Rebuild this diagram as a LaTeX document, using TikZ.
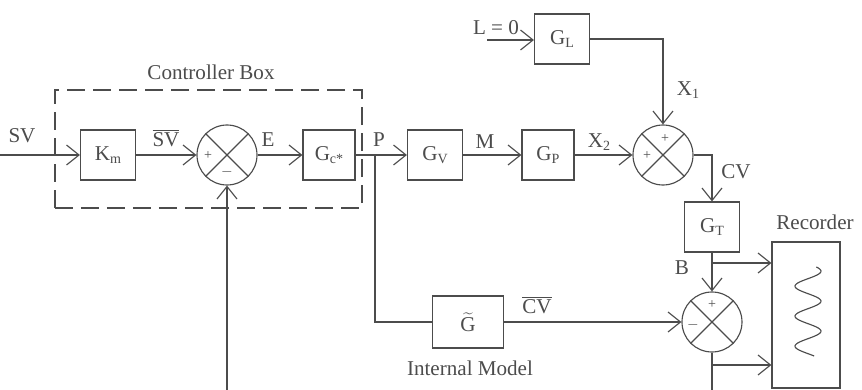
\documentclass[tikz,border=0pt]{standalone}
\usepackage{fontspec}
\setmainfont{Liberation Serif}
\usetikzlibrary{arrows.meta}
\definecolor{ink}{gray}{0.3}
\newcommand{\sbs}[1]{\raisebox{-0.25ex}{\footnotesize #1}}
\begin{document}
\begin{tikzpicture}[x=0.2mm,y=-0.2mm,color=ink,line width=0.65pt,
  font=\fontsize{12}{14}\selectfont,
  >={Straight Barb[length=2.5mm,width=4mm]},
  blk/.style={draw,minimum width=1.1cm,minimum height=1cm,inner sep=0pt},
  sumj/.style={draw,circle,minimum size=1.2cm,inner sep=0pt},
  sgn/.style={font=\footnotesize,inner sep=0pt}]
  \useasboundingbox (0,0) rectangle (862,390);
  % forward path
  \coordinate (svin) at (0,155);
  \node[blk] (km) at (108,155) {K\sbs{m}};
  \node[sumj] (s1) at (227,155) {};
  \node[blk,minimum width=1.04cm] (gc) at (329,155) {G\sbs{c*}};
  \coordinate (p) at (375,155);
  \node[blk] (gv) at (435,155) {G\sbs{V}};
  \node[blk,minimum width=1.04cm] (gp) at (548,155) {G\sbs{P}};
  \node[sumj] (s2) at (663,155) {};
  \coordinate (lin) at (487,40);
  \node[blk] (gl) at (562,39) {G\sbs{L}};
  \node[blk] (gt) at (712,227) {G\sbs{T}};
  \node[sumj] (s3) at (712,322) {};
  \node[blk,minimum width=1.42cm,minimum height=1.04cm] (im) at (468,322) {$\widetilde{\mathrm{G}}$};
  \node[draw,minimum width=1.36cm,minimum height=2.92cm] (rec) at (806,315) {};
  \node[draw,dash pattern=on 3.6mm off 1.6mm,minimum width=6.14cm,minimum height=2.36cm] (ctrl) at (208.5,149) {};
  \coordinate (fbin) at (227,390);
  \coordinate (s3out) at (712,390);
  \coordinate (b1) at (712,263);
  \coordinate (b2) at (712,365);
  \coordinate (r1) at (rec.west |- b1);
  \coordinate (r2) at (rec.west |- b2);
  \foreach \s in {s1,s2,s3}{
    \draw (\s.north east) -- (\s.south west);
    \draw (\s.north west) -- (\s.south east);
  }
  \node[sgn] (s1a) at (208,156) {+};
  \node[sgn] (s1b) at (227,172) {$-$};
  \node[sgn] (s2a) at (665,139) {+};
  \node[sgn] (s2b) at (647,156) {+};
  \node[sgn] (s3a) at (712,305) {+};
  \node[sgn] (s3b) at (693,325) {$-$};
  \draw[->] (svin) -- (km);
  \draw[->] (km) -- (s1);
  \draw[->] (s1) -- (gc);
  \draw (gc) -- (p);
  \draw[->] (p) -- (gv);
  \draw[->] (gv) -- (gp);
  \draw[->] (gp) -- (s2);
  \draw[->] (lin) -- (gl.west |- lin);
  \draw[->] (gl) -| (s2);
  \draw[->] (s2) -| (gt);
  \draw[->] (gt) -- (s3);
  \draw (p) |- (im);
  \draw[->] (im) -- (s3);
  \draw[->] (fbin) -- (s1);
  \draw (s3) -- (s3out);
  \draw[->] (b1) -- (r1);
  \draw[->] (b2) -- (r2);
  \draw plot[domain=267:356,samples=90,smooth] ({808+13*sin(12*(\x-267)+40)},\x);
  % labels
  \node (lctrl) at (211,72) {Controller Box};
  \node (lsv) at (22,136) {SV};
  \node (lsvb) at (166,138) {$\overline{\mbox{SV}}$};
  \node (le) at (268,140) {E};
  \node (lp) at (379,140) {P};
  \node (lm) at (485,142) {M};
  \node (lx2) at (599,142) {X\sbs{2}};
  \node (lx1) at (688,90) {X\sbs{1}};
  \node (ll) at (496,28) {L = 0};
  \node (lcv) at (736,172) {CV};
  \node (lb) at (682,268) {B};
  \node (lcvb) at (537,305) {$\overline{\mbox{CV}}$};
  \node (lim) at (470,368) {Internal Model};
  \node (lrec) at (815,222) {Recorder};
\end{tikzpicture}
\end{document}
